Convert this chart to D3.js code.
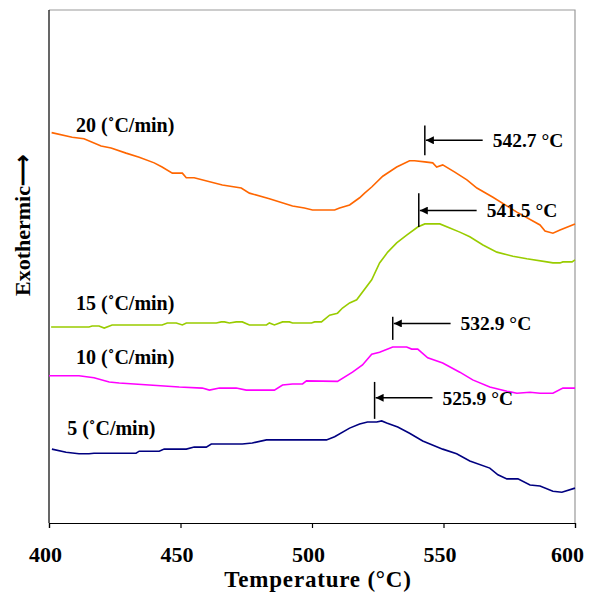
<!DOCTYPE html>
<html>
<head>
<meta charset="utf-8">
<script src="https://cdn.jsdelivr.net/npm/d3@7"></script>
<style>
  body { margin: 0; background: #fff; }
  text { font-family: "Liberation Serif", "Times New Roman", serif; font-weight: bold; }
</style>
</head>
<body>
<div id="chart"></div>
<script>
// heating rates (degC/min) and their curve labels
const rates = ["20", "15", "10", "5"];
const rateLabels = ["20 (˚C/min)", "15 (˚C/min)", "10 (˚C/min)", "5 (˚C/min)"];
const colors = ["#ff6600", "#99cc00", "#ff00ff", "#000080"];

// temperature (degC) and heat-flow signal (arbitrary units) per rate
const temp20 = [401, 408.8, 413.3, 419.8, 423.6, 429.3, 434.3, 440, 443, 446.9, 450.7, 452.2, 455.2, 465.9, 473.1, 476.2, 483.8, 492.6, 497.1, 500.2, 508.6, 510.5, 514.3, 518.1, 520, 522.7, 526.9, 532.2, 537.1, 539, 542.9, 545.9, 547.4, 549.7, 554.3, 558.9, 562.7, 568.8, 577.9, 586.7, 588.6, 591.6, 594.3, 600];
const sig20 = [76.1, 75.2, 74.9, 73.5, 73.1, 72.1, 71.3, 70.2, 69.4, 68.2, 68.2, 67.3, 67.3, 65.9, 65.3, 64.3, 63.2, 61.8, 61.4, 61.0, 61.0, 61.4, 62.0, 63.4, 64.3, 65.5, 67.6, 69.4, 70.6, 70.6, 70.4, 70.2, 69.4, 69.8, 68.4, 66.9, 65.3, 63.5, 60.6, 58.1, 56.9, 56.5, 57.1, 58.3];

const temp15 = [400.8, 415.2, 416.4, 419, 421, 424, 443, 445, 448.4, 450.7, 452.2, 463.6, 465.5, 466.7, 468.6, 471.2, 473.5, 476.2, 482.7, 483.8, 485.7, 488.8, 491.4, 492.6, 499.8, 501, 503.6, 506.7, 509.7, 511.6, 514.3, 517, 522.7, 525.7, 528.8, 532.2, 536, 540.2, 542.9, 548.6, 552.4, 556.2, 560, 565, 570.3, 576.4, 581.7, 589.3, 591.6, 594.3, 595.4, 598.9, 600];
const sig15 = [38.2, 38.2, 38.4, 38.4, 38.0, 38.6, 38.6, 39.0, 39.0, 38.6, 39.0, 39.0, 39.2, 39.2, 39.0, 39.2, 39.2, 38.6, 38.6, 39.0, 38.6, 39.2, 39.2, 39.0, 39.0, 39.2, 39.2, 40.5, 40.9, 41.9, 42.9, 43.5, 47.4, 50.7, 52.8, 54.6, 56.1, 57.7, 58.3, 58.3, 57.5, 56.7, 55.8, 54.2, 52.8, 52.0, 51.5, 50.9, 50.7, 50.7, 50.9, 50.9, 51.3];

const temp10 = [400, 411.4, 417.1, 422.9, 426.7, 438.1, 449.5, 458.3, 461, 464.8, 471.2, 475, 485.7, 488.8, 492.6, 496.4, 497.9, 509.7, 515.4, 519.2, 522.7, 525.7, 530.7, 536, 537.9, 540.2, 544, 549.7, 556.2, 561.1, 567.6, 574.1, 577.9, 582.9, 586.7, 591.6, 595.4, 600];
const sig10 = [28.7, 28.7, 28.3, 27.5, 27.3, 26.9, 26.5, 26.3, 25.9, 26.3, 26.3, 25.9, 25.9, 26.9, 27.1, 27.1, 27.7, 27.6, 29.4, 30.8, 32.9, 33.3, 34.3, 34.3, 33.9, 33.9, 32.2, 31.2, 29.4, 27.9, 26.5, 25.7, 25.3, 25.5, 25.3, 25.3, 26.3, 26.3];

const temp5 = [401.1, 406.5, 411.4, 415.2, 417.1, 433.1, 434.3, 441.9, 443.8, 452.2, 455.2, 459.8, 461.7, 473.5, 477.3, 482.7, 505.5, 508.6, 514.3, 518.1, 521.1, 524.6, 526.5, 528.4, 532.6, 537.1, 542.1, 549.7, 555, 560, 567.6, 570.7, 574.1, 578.3, 582.9, 586.7, 591.6, 595, 600];
const sig5 = [14.4, 13.8, 13.5, 13.5, 13.6, 13.6, 14.0, 14.0, 14.4, 14.4, 14.8, 14.8, 15.4, 15.4, 15.6, 16.2, 16.2, 16.8, 18.5, 19.3, 19.7, 19.7, 19.9, 19.5, 18.7, 17.5, 16.0, 14.4, 13.5, 12.1, 10.7, 9.4, 8.6, 8.6, 7.4, 7.2, 6.2, 6.0, 6.8];

// label anchor per curve (temperature, signal)
const labelTemp = [410.3, 410.3, 410.3, 406.9];
const labelSig = [76.2, 41.6, 30.9, 17.1];

// peak markers: where the tick is drawn, its span and the printed value
const peakTemp = [542.9, 540.6, 530.7, 523.8];
const peakTop = [77.5, 64.3, 40.2, 27.5];
const peakBottom = [71.7, 57.7, 35.7, 20.3];
const peakArrow = [74.6, 60.9, 38.9, 24.4];
const peakLabels = ["542.7 °C", "541.5 °C", "532.9 °C", "525.9 °C"];

const xTicks = [400, 450, 500, 550, 600];

const width = 590;
const height = 592;
const margin = { top: 10, right: 15, bottom: 69, left: 49 };

const temps = [temp20, temp15, temp10, temp5];
const sigs = [sig20, sig15, sig10, sig5];
const series = rates.map((r, i) =>
  temps[i].map((t, j) => ({ t: t, v: sigs[i][j] }))
);

const x = d3.scaleLinear().domain([400, 600]).range([margin.left, width - margin.right]);
const y = d3.scaleLinear().domain([0, 100]).range([height - margin.bottom, margin.top]);

const svg = d3
  .select("#chart")
  .append("svg")
  .attr("width", width)
  .attr("height", height);

svg
  .append("defs")
  .append("marker")
  .attr("id", "head")
  .attr("viewBox", "0 0 10 10")
  .attr("refX", 10)
  .attr("refY", 5)
  .attr("markerWidth", 9)
  .attr("markerHeight", 8)
  .attr("markerUnits", "userSpaceOnUse")
  .attr("orient", "auto")
  .append("path")
  .attr("d", "M10,5 L0,0 L0,10 Z")
  .attr("fill", "#000");

// frame: grey top/right, black left/bottom
svg
  .append("path")
  .attr("d", `M${x(400)},${y(100)} H${x(600)} V${y(0)}`)
  .attr("fill", "none")
  .attr("stroke", "#999")
  .attr("stroke-width", 1.2);

svg
  .append("line")
  .attr("x1", x(400))
  .attr("x2", x(400))
  .attr("y1", y(100))
  .attr("y2", y(0))
  .attr("stroke", "#000")
  .attr("stroke-width", 1.2);

const xAxis = svg
  .append("g")
  .attr("transform", `translate(0,${y(0)})`)
  .call(d3.axisBottom(x).tickValues(xTicks).tickSize(5).tickPadding(18).tickFormat(d3.format("d")));
xAxis.select(".domain").attr("stroke", "#000").attr("stroke-width", 1.2);
xAxis.selectAll(".tick line").attr("stroke", "#000").attr("stroke-width", 1.2);
// labels sit a little left of their ticks in the original; the last one stays inside the page
xAxis
  .selectAll("text")
  .attr("dx", (d) => (d === 600 ? -8 : -4))
  .attr("font-size", 22)
  .attr("font-family", "Liberation Serif, serif")
  .attr("font-weight", "bold")
  .attr("fill", "#000");

svg
  .append("text")
  .attr("x", x(500) + 6)
  .attr("y", 587)
  .attr("text-anchor", "middle")
  .attr("font-size", 23)
  .attr("letter-spacing", 0.8)
  .text("Temperature (°C)");

svg
  .append("text")
  .attr("transform", "translate(30,225) rotate(-90)")
  .attr("text-anchor", "middle")
  .attr("font-size", 22)
  .text("Exothermic⟶");

const line = d3
  .line()
  .x((d) => x(d.t))
  .y((d) => y(d.v));

svg
  .selectAll(".curve")
  .data(series)
  .enter()
  .append("path")
  .attr("class", "curve")
  .attr("d", line)
  .attr("fill", "none")
  .attr("stroke", (_, i) => colors[i])
  .attr("stroke-width", 1.6);

svg
  .selectAll(".rate")
  .data(rateLabels)
  .enter()
  .append("text")
  .attr("class", "rate")
  .attr("x", (_, i) => x(labelTemp[i]))
  .attr("y", (_, i) => y(labelSig[i]))
  .attr("font-size", 20)
  .text((d) => d);

// peak ticks, arrows and values
const peaks = svg.selectAll(".peak").data(peakLabels).enter().append("g").attr("class", "peak");

peaks
  .append("line")
  .attr("x1", (_, i) => x(peakTemp[i]))
  .attr("x2", (_, i) => x(peakTemp[i]))
  .attr("y1", (_, i) => y(peakTop[i]))
  .attr("y2", (_, i) => y(peakBottom[i]))
  .attr("stroke", "#000")
  .attr("stroke-width", 1.5);

peaks
  .append("line")
  .attr("x1", (_, i) => x(peakTemp[i] + 22))
  .attr("x2", (_, i) => x(peakTemp[i] + 0.4))
  .attr("y1", (_, i) => y(peakArrow[i]))
  .attr("y2", (_, i) => y(peakArrow[i]))
  .attr("stroke", "#000")
  .attr("stroke-width", 1.5)
  .attr("marker-end", "url(#head)");

peaks
  .append("text")
  .attr("x", (_, i) => x(peakTemp[i] + 25.8))
  .attr("y", (_, i) => y(peakArrow[i]))
  .attr("dy", "0.35em")
  .attr("font-size", 19.5)
  .text((d) => d);
</script>
</body>
</html>
